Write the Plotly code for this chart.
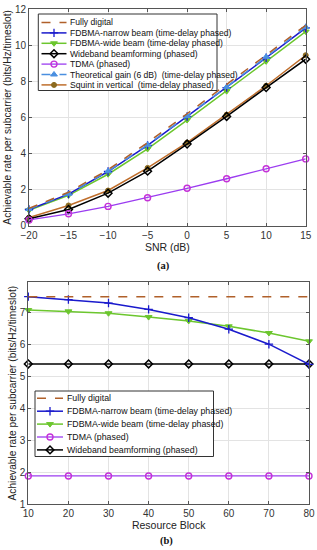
import plotly.graph_objects as go

# ---------------- data ----------------
snr = [-20, -15, -10, -5, 0, 5, 10, 15]
fully_digital_a = [0.96, 1.85, 3.1, 4.6, 6.2, 7.8, 9.45, 11.1]
narrow_a = [0.9, 1.75, 3.0, 4.45, 6.05, 7.65, 9.3, 10.95]
wide_a = [0.85, 1.68, 2.85, 4.25, 5.85, 7.45, 9.1, 10.75]
wideband_a = [0.38, 0.9, 1.8, 3.02, 4.52, 6.05, 7.65, 9.22]
tdma_a = [0.32, 0.66, 1.07, 1.55, 2.07, 2.6, 3.15, 3.7]
theoretical_a = [0.92, 1.77, 3.02, 4.48, 6.08, 7.68, 9.35, 11.0]
squint_a = [0.45, 1.12, 1.95, 3.2, 4.6, 6.15, 7.75, 9.44]

resource_block = [10, 20, 30, 40, 50, 60, 70, 80]
fully_digital_b = [7.5, 7.5, 7.5, 7.5, 7.5, 7.5, 7.5, 7.5]
narrow_b = [7.5, 7.41, 7.3, 7.1, 6.84, 6.48, 6.01, 5.38]
wide_b = [7.08, 7.04, 6.98, 6.86, 6.74, 6.57, 6.36, 6.1]
tdma_b = [1.88, 1.88, 1.88, 1.88, 1.88, 1.88, 1.88, 1.88]
wideband_b = [5.39, 5.39, 5.39, 5.39, 5.39, 5.39, 5.39, 5.39]

names_a = ["Fully digital", "FDBMA-narrow beam (time-delay phased)",
           "FDBMA-wide beam (time-delay phased)", "Wideband beamforming (phased)",
           "TDMA (phased)", "Theoretical gain (6 dB)  (time-delay phased)",
           "Squint in vertical  (time-delay phased)"]
names_b = ["Fully digital", "FDBMA-narrow beam (time-delay phased)",
           "FDBMA-wide beam (time-delay phased)", "TDMA (phased)",
           "Wideband beamforming (phased)"]

x_ticks_a = [-20, -15, -10, -5, 0, 5, 10, 15]
y_ticks_a = [0, 2, 4, 6, 8, 10, 12]
x_ticks_b = [10, 20, 30, 40, 50, 60, 70, 80]
y_ticks_b = [1, 2, 3, 4, 5, 6, 7]

# ---------------- page geometry ----------------
W, H = 317, 550
FONT = "Liberation Sans, Arial, sans-serif"
SERIF = "Liberation Serif, Times New Roman, serif"

C_FD = "#B0602A"
C_NB = "#1A1ACC"
C_WB = "#6CC62E"
C_BF = "#000000"
C_TD_L = "#9B3CF0"
C_TD_M = "#C531D8"
C_TH = "#4A8FE0"
C_SQ_L = "#BF6E2C"
C_SQ_M = "#8C6A1E"

styles = {
    "fd": dict(line=dict(color=C_FD, width=1.5, dash="dash"), mode="lines"),
    "nb": dict(line=dict(color=C_NB, width=1.5), mode="lines+markers",
               marker=dict(symbol="cross-thin", size=6, line=dict(color=C_NB, width=1.3))),
    "wb": dict(line=dict(color=C_WB, width=1.5), mode="lines+markers",
               marker=dict(symbol="triangle-down", size=6, color=C_WB, line=dict(color=C_WB, width=1))),
    "bf": dict(line=dict(color=C_BF, width=1.5), mode="lines+markers",
               marker=dict(symbol="diamond-open", size=6, color=C_BF, line=dict(color=C_BF, width=1.5))),
    "td": dict(line=dict(color=C_TD_L, width=1.3), mode="lines+markers",
               marker=dict(symbol="circle-open", size=6, color=C_TD_M, line=dict(color=C_TD_M, width=1.4))),
    "th": dict(line=dict(color=C_TH, width=1.5, dash="dash"), mode="lines+markers",
               marker=dict(symbol="triangle-up", size=6, color=C_TH, line=dict(color=C_TH, width=1))),
    "sq": dict(line=dict(color=C_SQ_L, width=1.5), mode="lines+markers",
               marker=dict(symbol="circle", size=5, color=C_SQ_M, line=dict(color=C_SQ_M, width=1))),
}


def px_x(v):
    return v / W


def px_y(v):
    return 1 - v / H


fig = go.Figure()

# panel (a)
series_a = [("sq", squint_a), ("bf", wideband_a), ("td", tdma_a), ("wb", wide_a),
            ("nb", narrow_a), ("th", theoretical_a), ("fd", fully_digital_a)]
for key, ys in series_a:
    fig.add_trace(go.Scatter(x=snr, y=ys, xaxis="x", yaxis="y", showlegend=False,
                             cliponaxis=False, **styles[key]))

# panel (b)
series_b = [("td", tdma_b), ("bf", wideband_b), ("wb", wide_b), ("nb", narrow_b), ("fd", fully_digital_b)]
for key, ys in series_b:
    fig.add_trace(go.Scatter(x=resource_block, y=ys, xaxis="x2", yaxis="y2", showlegend=False,
                             cliponaxis=False, **styles[key]))

# ---------------- custom compact legends (MATLAB-like), on a pixel overlay axis ----------------
annotations = []
leg_keys_a = ["fd", "nb", "wb", "bf", "td", "th", "sq"]
leg_keys_b = ["fd", "nb", "wb", "td", "bf"]


def build_legend(keys, names, box, y0, dy, lx0, lx1, tx, fsize):
    bx0, by0, bx1, by1 = box
    fig.add_trace(go.Scatter(x=[bx0, bx1, bx1, bx0, bx0], y=[by0, by0, by1, by1, by0],
                             xaxis="x3", yaxis="y3", mode="lines", fill="toself",
                             fillcolor="white", line=dict(color="#333333", width=1),
                             showlegend=False, hoverinfo="skip", cliponaxis=False))
    for i, (k, nm) in enumerate(zip(keys, names)):
        yy = y0 + i * dy
        st = styles[k]
        fig.add_trace(go.Scatter(x=[lx0, lx1], y=[yy, yy], xaxis="x3", yaxis="y3", mode="lines",
                                 line=st["line"], showlegend=False, hoverinfo="skip", cliponaxis=False))
        if "marker" in st:
            fig.add_trace(go.Scatter(x=[(lx0 + lx1) / 2], y=[yy], xaxis="x3", yaxis="y3",
                                     mode="markers", marker=st["marker"], showlegend=False,
                                     hoverinfo="skip", cliponaxis=False))
        annotations.append(dict(x=px_x(tx), y=px_y(yy), xref="paper", yref="paper",
                                text=nm, showarrow=False, xanchor="left", yanchor="middle",
                                font=dict(family=FONT, size=fsize, color="#111111")))


build_legend(leg_keys_a, names_a, (38.3, 14, 217, 90.5), 22.5, 10.4, 41.5, 66.5, 68, 8.6)
build_legend(leg_keys_b, names_b, (35, 391, 213.5, 456.5), 398.3, 12.9, 37, 63, 64.5, 8.8)

# panel captions
annotations.append(dict(x=px_x(163), y=px_y(266), xref="paper", yref="paper", text="<b>(a)</b>",
                        showarrow=False, yanchor="middle",
                        font=dict(family=SERIF, size=10.5, color="#111111")))
annotations.append(dict(x=px_x(166), y=px_y(541), xref="paper", yref="paper", text="<b>(b)</b>",
                        showarrow=False, yanchor="middle",
                        font=dict(family=SERIF, size=10.5, color="#111111")))

axis_common = dict(showgrid=True, gridcolor="#E3E3E3", gridwidth=1, showline=True,
                   linecolor="#555555", linewidth=1, mirror="allticks", ticks="inside",
                   ticklen=3, tickcolor="#555555", zeroline=False, automargin=False,
                   ticklabeloverflow="allow",
                   tickfont=dict(family=FONT, size=10, color="#333333"))

fig.update_layout(
    width=W, height=H,
    margin=dict(l=0, r=0, t=0, b=0),
    paper_bgcolor="white", plot_bgcolor="rgba(0,0,0,0)",
    showlegend=False,
    xaxis=dict(domain=[px_x(29), px_x(305.7)], range=[-20, 15], tickvals=x_ticks_a,
               anchor="y", title=dict(text="SNR (dB)", font=dict(family=FONT, size=10.5, color="#222222"), standoff=0),
               **axis_common),
    yaxis=dict(domain=[px_y(225.7), px_y(9)], range=[0, 12], tickvals=y_ticks_a, anchor="x",
               title=dict(text="Achievable rate per subcarrier (bits/Hz/timeslot)",
                          font=dict(family=FONT, size=10.2, color="#222222"), standoff=1),
               **axis_common),
    xaxis2=dict(domain=[px_x(28.3), px_x(309)], range=[10, 80], tickvals=x_ticks_b, anchor="y2",
                title=dict(text="Resource Block", font=dict(family=FONT, size=10.5, color="#222222"), standoff=0),
                **axis_common),
    yaxis2=dict(domain=[px_y(504), px_y(282.3)], range=[1, 7.95], tickvals=y_ticks_b, anchor="x2",
                title=dict(text="Achievable rate per subcarrier (bits/Hz/timeslot)",
                           font=dict(family=FONT, size=10.2, color="#222222"), standoff=1),
                **axis_common),
    xaxis3=dict(domain=[0, 1], range=[0, W], visible=False, anchor="y3", fixedrange=True),
    yaxis3=dict(domain=[0, 1], range=[H, 0], visible=False, anchor="x3", fixedrange=True),
    annotations=annotations,
)

# remove the browser's default 8px body margin so the figure fills the window exactly;
# hide the interactive mode bar (static figure)
fig.write_html("out.html", config={"displayModeBar": False},
               post_script="document.body.style.margin='0';")
